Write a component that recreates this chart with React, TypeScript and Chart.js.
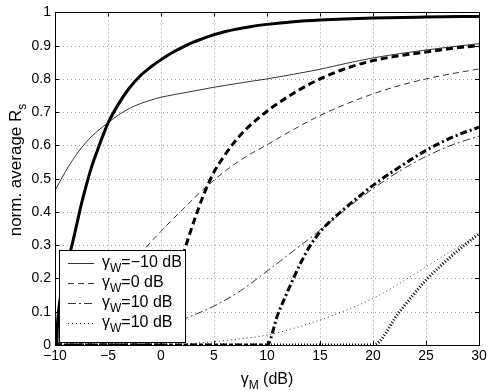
import { useEffect, useRef } from 'react';
import { Chart, registerables } from 'chart.js';
Chart.register(...registerables);

// x ticks and y ticks
const X_TICKS = [-10, -5, 0, 5, 10, 15, 20, 25, 30];
const Y_TICKS = [0, 0.1, 0.2, 0.3, 0.4, 0.5, 0.6, 0.7, 0.8, 0.9, 1];

// gamma_W = -10 dB, thin (solid)
const thinSolidX = [-10, -9, -8, -7, -6, -5, -4, -3, -2, -1, 0, 2.5, 5, 7.5, 10, 12.5, 15, 17.5, 20, 22.5, 25, 27.5, 30];
const thinSolidY = [0.465, 0.522, 0.572, 0.612, 0.643, 0.668, 0.692, 0.711, 0.725, 0.736, 0.745, 0.76, 0.775, 0.788, 0.8, 0.814, 0.829, 0.847, 0.863, 0.876, 0.887, 0.897, 0.906];
// gamma_W = -10 dB, thick (solid)
const thickSolidX = [-10, -9.85, -9.75, -9.55, -9.2, -8.8, -8.4, -8, -7.5, -7, -6.5, -6, -5.5, -5, -4, -3, -2, -1, 0, 1, 2, 3, 4, 5, 6, 7, 8.4, 10, 12.5, 15, 20, 25, 30];
const thickSolidY = [0, 0, 0.07, 0.13, 0.2, 0.25, 0.3, 0.355, 0.425, 0.486, 0.54, 0.585, 0.628, 0.667, 0.725, 0.772, 0.808, 0.835, 0.858, 0.878, 0.895, 0.91, 0.922, 0.933, 0.942, 0.949, 0.957, 0.964, 0.972, 0.977, 0.983, 0.986, 0.988];
// gamma_W = 0 dB, thin (dashed)
const thinDashX = [-10, -7.5, -5, -2.5, -1.5, 0, 1.8, 4.6, 7.45, 10, 12.5, 15, 17.5, 20, 22.5, 25, 27.5, 30];
const thinDashY = [0.015, 0.085, 0.165, 0.25, 0.29, 0.342, 0.4, 0.485, 0.555, 0.602, 0.648, 0.69, 0.725, 0.755, 0.78, 0.8, 0.816, 0.83];
// gamma_W = 0 dB, thick (dashed)
const thickDashX = [-10, 0, 0.4, 1, 1.6, 2.26, 3.2, 4, 5, 6, 7, 8, 9, 10, 12.5, 15, 17.5, 20, 22.5, 25, 27.5, 30];
const thickDashY = [0, 0, 0.07, 0.15, 0.22, 0.29, 0.38, 0.45, 0.52, 0.57, 0.613, 0.648, 0.677, 0.703, 0.757, 0.8, 0.832, 0.855, 0.87, 0.881, 0.892, 0.9];
// gamma_W = 10 dB, thin (dash-dot)
const thinDashDotX = [-10, -5, 0, 2.3, 5, 7.5, 10, 12.5, 15, 17.5, 20, 22.5, 25, 27.5, 30];
const thinDashDotY = [0.005, 0.022, 0.052, 0.08, 0.117, 0.163, 0.222, 0.283, 0.345, 0.41, 0.47, 0.523, 0.567, 0.602, 0.628];
// gamma_W = 10 dB, thick (dash-dot)
const thickDashDotX = [-10, 10, 11, 12, 13, 14, 15, 16, 17.5, 20, 22.5, 25, 27.5, 30];
const thickDashDotY = [0, 0, 0.09, 0.165, 0.235, 0.295, 0.34, 0.373, 0.415, 0.48, 0.535, 0.585, 0.625, 0.655];
// gamma_W = 10 dB (2nd), thin (dotted)
const thinDotX = [-10, 0, 3, 6.5, 10, 12.5, 15, 17.5, 20, 22.5, 25, 27.5, 30];
const thinDotY = [0, 0, 0.005, 0.015, 0.03, 0.05, 0.075, 0.105, 0.14, 0.185, 0.235, 0.285, 0.33];
// gamma_W = 10 dB (2nd), thick (dotted)
const thickDotX = [-10, 20, 22.5, 25, 27.5, 30];
const thickDotY = [0, 0, 0.1, 0.195, 0.27, 0.335];

const LEGEND_LABELS = ['=\u221210 dB', '=0 dB', '=10 dB', '=10 dB'];
const LEGEND_DASH: number[][] = [[], [6, 4], [8, 3, 2, 3], [1, 3]];

const FONT = '"Liberation Sans", Arial, Helvetica, sans-serif';

const zip = (xs: number[], ys: number[]) => xs.map((x, i) => ({ x, y: ys[i] }));

function drawSubText(ctx: CanvasRenderingContext2D, x: number, y: number, parts: [string, boolean][], size: number) {
  let cx = x;
  for (const [t, sub] of parts) {
    ctx.font = `${sub ? Math.round(size * 0.72) : size}px ${FONT}`;
    ctx.fillText(t, cx, sub ? y + size * 0.32 : y);
    cx += ctx.measureText(t).width;
  }
}
function measureSub(ctx: CanvasRenderingContext2D, parts: [string, boolean][], size: number) {
  let w = 0;
  for (const [t, sub] of parts) {
    ctx.font = `${sub ? Math.round(size * 0.72) : size}px ${FONT}`;
    w += ctx.measureText(t).width;
  }
  return w;
}

const decor = {
  id: 'decor',
  beforeDatasetsDraw(chart: any) {
    const { ctx, chartArea: a, scales } = chart;
    ctx.save();
    ctx.strokeStyle = '#9a9a9a';
    ctx.lineWidth = 1;
    ctx.setLineDash([1, 3]);
    for (const v of X_TICKS) {
      const px = Math.round(scales.x.getPixelForValue(v)) + 0.5;
      ctx.beginPath(); ctx.moveTo(px, a.top); ctx.lineTo(px, a.bottom); ctx.stroke();
    }
    for (const v of Y_TICKS) {
      const py = Math.round(scales.y.getPixelForValue(v)) + 0.5;
      ctx.beginPath(); ctx.moveTo(a.left, py); ctx.lineTo(a.right, py); ctx.stroke();
    }
    ctx.restore();
  },
  afterDatasetsDraw(chart: any) {
    const { ctx, chartArea: a, scales } = chart;
    ctx.save();
    ctx.setLineDash([]);
    ctx.strokeStyle = '#000';
    ctx.lineWidth = 1;
    // inner ticks
    for (const v of X_TICKS) {
      const px = Math.round(scales.x.getPixelForValue(v)) + 0.5;
      ctx.beginPath(); ctx.moveTo(px, a.bottom); ctx.lineTo(px, a.bottom - 4); ctx.stroke();
      ctx.beginPath(); ctx.moveTo(px, a.top); ctx.lineTo(px, a.top + 4); ctx.stroke();
    }
    for (const v of Y_TICKS) {
      const py = Math.round(scales.y.getPixelForValue(v)) + 0.5;
      ctx.beginPath(); ctx.moveTo(a.left, py); ctx.lineTo(a.left + 4, py); ctx.stroke();
      ctx.beginPath(); ctx.moveTo(a.right, py); ctx.lineTo(a.right - 4, py); ctx.stroke();
    }
    // box
    ctx.strokeRect(Math.round(a.left) + 0.5, Math.round(a.top) + 0.5, Math.round(a.right - a.left), Math.round(a.bottom - a.top));

    // legend
    const lx = a.left + 4, ly = 250, lw = 126, lh = 92;
    ctx.fillStyle = '#fff';
    ctx.fillRect(lx, ly, lw, lh);
    ctx.strokeStyle = '#000';
    ctx.strokeRect(lx + 0.5, ly + 0.5, lw, lh);
    ctx.textBaseline = 'alphabetic';
    ctx.textAlign = 'left';
    LEGEND_LABELS.forEach((lab, i) => {
      const yy = 263 + i * 20;
      ctx.strokeStyle = '#000';
      ctx.lineWidth = 0.8;
      ctx.setLineDash(LEGEND_DASH[i]);
      ctx.beginPath(); ctx.moveTo(lx + 9, yy + 0.5); ctx.lineTo(lx + 35, yy + 0.5); ctx.stroke();
      ctx.setLineDash([]);
      ctx.fillStyle = '#000';
      drawSubText(ctx, lx + 43, yy + 4, [['\u03b3', false], ['W', true], [lab, false]], 16);
    });

    // x title
    const xParts: [string, boolean][] = [['\u03b3', false], ['M', true], [' (dB)', false]];
    const xw = measureSub(ctx, xParts, 16);
    drawSubText(ctx, (a.left + a.right) / 2 - xw / 2, 384, xParts, 16);
    // y title
    const yParts: [string, boolean][] = [['norm. average R', false], ['s', true]];
    const yw = measureSub(ctx, yParts, 17);
    ctx.translate(21, 170);
    ctx.rotate(-Math.PI / 2);
    drawSubText(ctx, -yw / 2, 0, yParts, 17);
    ctx.restore();
  },
};

export default function App() {
  const ref = useRef<HTMLCanvasElement>(null);
  useEffect(() => {
    document.body.style.margin = '0';
    const thin = 0.8, thick = 3;
    const mk = (label: string, xs: number[], ys: number[], w: number, dash: number[]) => ({
      label, data: zip(xs, ys), borderColor: '#000', borderWidth: w, borderDash: dash,
      pointRadius: 0, fill: false, cubicInterpolationMode: 'monotone' as const, borderCapStyle: 'butt' as const,
    });
    const chart = new Chart(ref.current!, {
      type: 'line',
      data: {
        datasets: [
          mk('thin solid', thinSolidX, thinSolidY, thin, []),
          mk('thick solid', thickSolidX, thickSolidY, thick, []),
          mk('thin dash', thinDashX, thinDashY, thin, [6, 4]),
          mk('thick dash', thickDashX, thickDashY, thick, [7, 4]),
          mk('thin dashdot', thinDashDotX, thinDashDotY, thin, [8, 3, 2, 3]),
          mk('thick dashdot', thickDashDotX, thickDashDotY, thick, [7, 3, 2, 3]),
          mk('thin dot', thinDotX, thinDotY, thin, [1, 3]),
          mk('thick dot', thickDotX, thickDotY, thick, [1, 2]),
        ],
      },
      options: {
        responsive: false,
        animation: false,
        layout: { padding: { top: 12, right: 12, left: 0, bottom: 0 } },
        plugins: { legend: { display: false }, tooltip: { enabled: false } },
        scales: {
          x: {
            type: 'linear', min: -10, max: 30,
            afterBuildTicks: (s: any) => { s.ticks = X_TICKS.map((v) => ({ value: v })); },
            ticks: {
              color: '#000', font: { family: FONT, size: 14 }, padding: 3, maxRotation: 0, autoSkip: false,
              callback: (v: any) => (v < 0 ? '\u2212' + Math.abs(v) : String(v)),
            },
            grid: { display: false, drawTicks: false },
            border: { display: false },
            afterFit: (s: any) => { s.height = 46; },
          },
          y: {
            type: 'linear', min: 0, max: 1,
            afterBuildTicks: (s: any) => { s.ticks = Y_TICKS.map((v) => ({ value: v })); },
            ticks: {
              color: '#000', font: { family: FONT, size: 14 }, padding: 4, autoSkip: false,
              callback: (v: any) => (v === 0 ? '0' : v === 1 ? '1' : Number(v).toFixed(1)),
            },
            grid: { display: false, drawTicks: false },
            border: { display: false },
            afterFit: (s: any) => { s.width = 55; },
          },
        },
      },
      plugins: [decor],
    } as any);
    return () => chart.destroy();
  }, []);
  return (
    <div style={{ width: 491, height: 391 }}>
      <canvas ref={ref} width={491} height={391} style={{ display: 'block' }} />
    </div>
  );
}
